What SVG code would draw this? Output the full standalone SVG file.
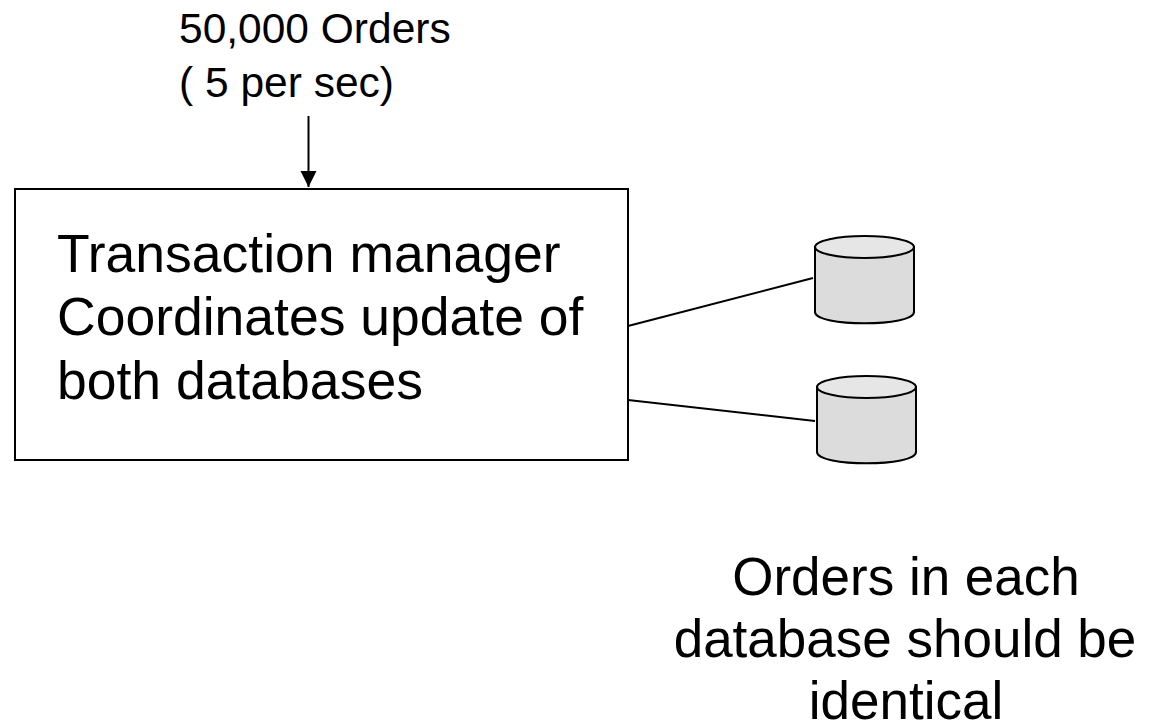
<svg xmlns="http://www.w3.org/2000/svg" width="1157" height="722" viewBox="0 0 1157 722">
<style>
text{font-family:"Liberation Sans",Arial,sans-serif;fill:#000}
.s{font-size:42.5px}.b{font-size:53.500px}.n{font-size:53px}
.l{fill:none;stroke:#000;stroke-width:2}
.c{fill:#dcdcdc;stroke:#000;stroke-width:2}
.t{fill:#e6e6e6;stroke:#000;stroke-width:2}
</style>
<defs><marker id="a" markerUnits="userSpaceOnUse" markerWidth="17" markerHeight="17" refX="16" refY="8" orient="auto"><path d="M0 0L16 8L0 16Z" fill="#000"/></marker></defs>
<rect width="1157" height="722" fill="#fff"/>
<g id="connectors">
<path class="l" d="M308.500 116V187" marker-end="url(#a)"/>
<path class="l" d="M628 326L813 278"/>
<path class="l" d="M628 400L815 421"/>
</g>
<g id="orders-label"><text class="s" x="179" y="43">50,000 Orders</text><text class="s" x="179" y="97">( 5 per sec)</text></g>
<g id="transaction-manager"><rect x="15" y="189" width="613" height="271" fill="#fff" stroke="#000" stroke-width="2"/>
<text class="b" x="57" y="272">Transaction manager</text><text class="b" x="57" y="335">Coordinates update of</text><text class="b" x="57" y="399">both databases</text></g>
<g id="db1"><path class="c" d="M815 247V312C815 327 914 327 914 312V247Z"/><ellipse class="t" cx="864.500" cy="247" rx="49.500" ry="11"/></g>
<g id="db2"><path class="c" d="M817 387V452C817 467 916 467 916 452V387Z"/><ellipse class="t" cx="866.500" cy="387" rx="49.500" ry="11"/></g>
<g id="note"><text class="n" x="906" y="595" text-anchor="middle">Orders in each</text><text class="n" x="905" y="657" text-anchor="middle">database should be</text><text class="n" x="906" y="719" text-anchor="middle">identical</text></g>
</svg>
